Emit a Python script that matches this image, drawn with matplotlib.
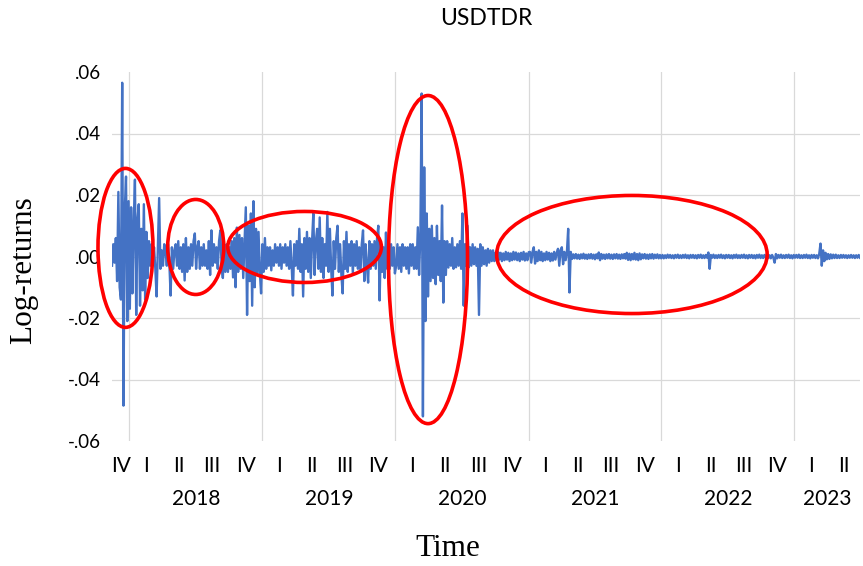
import numpy as np
import pandas as pd
import matplotlib
matplotlib.use("Agg")
import matplotlib.pyplot as plt
import matplotlib.dates as mdates
from matplotlib.patches import Ellipse
from matplotlib.transforms import blended_transform_factory

# log-returns, in thousandths, one value every 3.5 days
start = "2017-11-14"
ret_2017 = [-3, 4, -2, 6, -8, 21, -10, -14, 56.5, -48.5, 15, 26, -21, 18]
ret_2018 = [-17, 16, -12, 10, 25, -19, 12, 17, -16, 9, -11, 17, -14, 8, -7, 5,
            -3, 4, -2, 3, -4, -13, 3, 19, -4, 2, -3, 4,
            2, -3, 4, -2, -12.7, 3, -4, 2, 4, -3, 5, -4, 3, -5, 4, -7.8, 6, -5, 3, -4,
            4, -3, 5, 7.5, -4, 3, 5, -4, 3, -3, 4, -3, 2, -4, 5, -6, 8.5, -3, 4, -2,
            3, -4, 5, 8.5, -3, -7, 4, -5,
            4, -5, 3, -4, 5, -6.8, 6, -10, 9.4, -5, 7, -4, 6, -7, 5, 16, -19, 10, -8, 14,
            -16, 18, -10, 9, -6, 8, -5, -12]
ret_2019 = [4, -5, 6, -4, 3, -3, 3, -4.5, 2, -3, 4, -2, 3, -3, 4, -4, 3, -2, 4, -3, 3, -4,
            5, -3, -12.7, 4, -3, 5, -4, 9, -5, 4, -13, 6, -4, 8, -5, 6, -7, 5, 14, -6,
            5, 9, -4, 12.7, -5, 6, -7, 4, -3, 14.5, -5, 9, -4, -12.7, 5, -4, 6, 10, -5, 4,
            -6, -12, 5, -4, 8, -5, 4, -3, 5, -5.5, 4, -3, 5, -4, 3, -5, 4, 8.5, -8, 4,
            -3, -8.5, 5, -4, 4, -3, 5, -4, 6, 10, -14.3, 4, -5, 3, -7, 7.8, -4, 3, -4, 4,
            -3, 3, -5.5]
ret_2020 = [-3, 4, -4, 3, -5, 4, -3, 3, -4, 3, -5.5, 4, -3, 4, -4, 3, -4, 9.5, -6, 7,
            53, -52, 29, -21, 14, -13, 9, -8, 10, -7, 6, -9, 10, -6, 5, -8, 16.6, -15, 5, -6,
            5, -3.6, 4, -3, 6, -4, 3, -3.5, 4, -3, 5, -4, 14, -16, 4, -3, 10, -3.5, 3, -3,
            4, -2.5, 3, -3, 2.5, -19, 4, -3, 3, -2.5, 2, -3, 2.5, -2, 2, -1.5, 2, -1.5, 1.2, -1.5,
            1.5, -1, 1.2, -1.5, 1, -1.2, 1.5, -1, 1.2, -1.5, 1, -1.2, 1.5, -1, 1.3, -1.2, 1, -1.5, 1.2, -1,
            1.5, -1.3, 1, -1.2, 1.4]
ret_2021 = [1.5, -2, 1.5, 3, -2.3, 1.5, -1.5, 2, -1.2, 1.5, -1.5, 1, -1.2, 1.5, -1, 1.2,
            -1.5, 1, -1.3, 1.5, -1, 1.2, 2.5, -3, 2, 3, -2.5, 1.5, -1.2, 1.5, 9, -11.7,
            1.5, -0.8, 0.7, -0.6, 0.8, -0.7, 0.6, -0.8, 0.7, -0.6, 0.9, -0.7, 0.6, -0.8, 0.7, -0.6,
            0.8, -0.7, 0.6, -0.9, 0.7, -0.6, 1.3, -1.2, 0.8, -0.7, 0.6, -0.8, 0.7, -0.6, 0.8, -0.7,
            0.6, -0.8, 0.7, -0.6, 0.8, -0.7, 0.6, -0.8, 0.7, -0.6, 0.8, -0.7, 1.2, -1.1, 0.9, -1.2,
            0.8, -0.9, 1.2, -1, 0.8, -1.2, 1, -0.9, 0.7, -0.6, 0.8, -0.7, 0.6, -0.8, 0.7, -0.6,
            0.8, -0.7, 0.6, -0.5, 0.7, -0.6, 0.5, -0.6]
ret_2022 = [0.5, -0.6, 0.4, -0.5, 0.6, -0.4, 0.5, -0.5, 0.4, -0.6, 0.5, -0.4, 0.6, -0.5, 0.4, -0.5,
            0.5, -0.4, 0.6, -0.5, 0.4, -0.6, 0.5, -0.4, 0.5, -0.5, 0.4, -0.6, 0.5, -0.4, 0.6, -0.5,
            0.4, -0.5, 0.5, -0.4, 1.3, -4,
            0.5, -0.4, 0.6, -0.5, 0.4, -0.5, 0.5, -0.4, 0.6, -0.5, 0.4, -0.6, 0.5, -0.4, 0.5, -0.5,
            0.4, -0.6, 0.5, -0.4, 0.6, -0.5, 0.4, -0.5, 0.5, -0.4, 0.6, -0.5, 0.4, -0.6, 0.5, -0.4,
            0.5, -0.5, 0.4, -0.6, 0.5, -0.4, 0.6, -0.5, 0.4, -0.5, 0.5, -0.4, 0.6, -0.5, 0.4, -0.6,
            0.5, -0.4, -2, 0.8, -0.6, 0.5, -0.4, 0.6, -0.5, 0.4, -0.5, 0.5, -0.4, 0.6, -0.5, 0.4,
            -0.6, 0.5, -0.4]
ret_2023 = [0.5, -0.4, 0.6, -0.5, 0.4, -0.5, 0.5, -0.4, 0.6, -0.5, 0.4, -0.6, 0.5, -0.4, 0.5, -0.5,
            0.4, -0.6, 0.8, 4.2, -3, 2, -1.5, 1.2, -0.9, 0.8, -0.8, 0.7, -0.6, 0.6, -0.5, 0.6,
            -0.5, 0.4, -0.5, 0.5, -0.4, 0.5, -0.4, 0.4, -0.5, 0.4, -0.4, 0.5, -0.4, 0.4, -0.5, 0.4,
            -0.4, 0.5, -0.4]

yticks = [-0.06, -0.04, -0.02, 0.0, 0.02, 0.04, 0.06]
quarter_names = ["I", "II", "III", "IV"]
years = [2018, 2019, 2020, 2021, 2022, 2023]

# red ellipses: centre date, centre value, width in days, height
ellipses = [("2017-12-21", 0.0028, 151, 0.0517),
            ("2018-07-02", 0.0031, 154, 0.0309),
            ("2019-04-27", 0.0031, 422, 0.0231),
            ("2020-03-31", -0.001, 217, 0.1067),
            ("2021-10-12", 0.00065, 743, 0.0384)]

values = np.concatenate([ret_2017, ret_2018, ret_2019, ret_2020,
                         ret_2021, ret_2022, ret_2023]) / 1000.0
dates = pd.Timestamp(start) + pd.to_timedelta(np.arange(len(values)) * 3.5, unit="D")

tick_font = "Lato"
blue = "#4472C4"
grid_c = "#D9D9D9"

fig = plt.figure(figsize=(8.63, 5.66), dpi=100)
ax = fig.add_axes([112 / 863, 1 - 441 / 566, (860 - 112) / 863, (441 - 72) / 566])

ax.plot(dates, values, color=blue, lw=1.7, zorder=3)

xmin, xmax = dates[0], dates[-1]
ax.set_xlim(xmin, xmax)
ax.set_ylim(-0.06, 0.06)

for s in ax.spines.values():
    s.set_visible(False)

# y axis
ax.set_yticks(yticks)
ylabels = []
for v in yticks:
    s = f"{abs(v):.2f}".lstrip("0")
    ylabels.append("-" + s if v < 0 else s)
ax.set_yticklabels(ylabels, fontfamily=tick_font, fontsize=13.5)
ax.tick_params(axis="y", length=0, pad=8)
for v in yticks[1:-1]:
    ax.axhline(v, color=grid_c, lw=0.9, zorder=1)

# x axis: year lines, quarter and year labels
ax.set_xticks([])
for y in years:
    ax.axvline(pd.Timestamp(f"{y}-01-01"), color=grid_c, lw=0.9, zorder=1)

tr = blended_transform_factory(ax.transData, ax.transAxes)
q_start = pd.Timestamp("2017-10-01")
while q_start < xmax:
    q_end = q_start + pd.offsets.QuarterBegin(startingMonth=1)
    a = max(q_start, xmin)
    b = min(q_end, xmax)
    mid = a + (b - a) / 2
    ax.text(mid, -0.068, quarter_names[(q_start.month - 1) // 3], transform=tr,
            ha="center", va="center", fontfamily=tick_font, fontsize=15)
    q_start = q_end

for y in years:
    a = max(pd.Timestamp(f"{y}-01-01"), xmin)
    b = min(pd.Timestamp(f"{y + 1}-01-01"), xmax)
    mid = a + (b - a) / 2
    ax.text(mid, -0.157, str(y), transform=tr, ha="center", va="center",
            fontfamily=tick_font, fontsize=15)

for c, yc, w, h in ellipses:
    e = Ellipse((mdates.date2num(pd.Timestamp(c)), yc), w, h, fill=False,
                edgecolor="#FF0000", lw=2.6, zorder=4, clip_on=False)
    ax.add_patch(e)

fig.text(486 / 863, 1 - 18.5 / 566, "USDTDR", ha="center", va="center",
         fontfamily=tick_font, fontsize=16.5)
fig.text(448 / 863, 1 - 548 / 566, "Time", ha="center", va="center",
         fontfamily="Liberation Serif", fontsize=22.5)
fig.text(24 / 863, 1 - 270 / 566, "Log-returns", ha="center", va="center",
         rotation=90, fontfamily="Liberation Serif", fontsize=22.5)

fig.savefig("out.png", dpi=100)
